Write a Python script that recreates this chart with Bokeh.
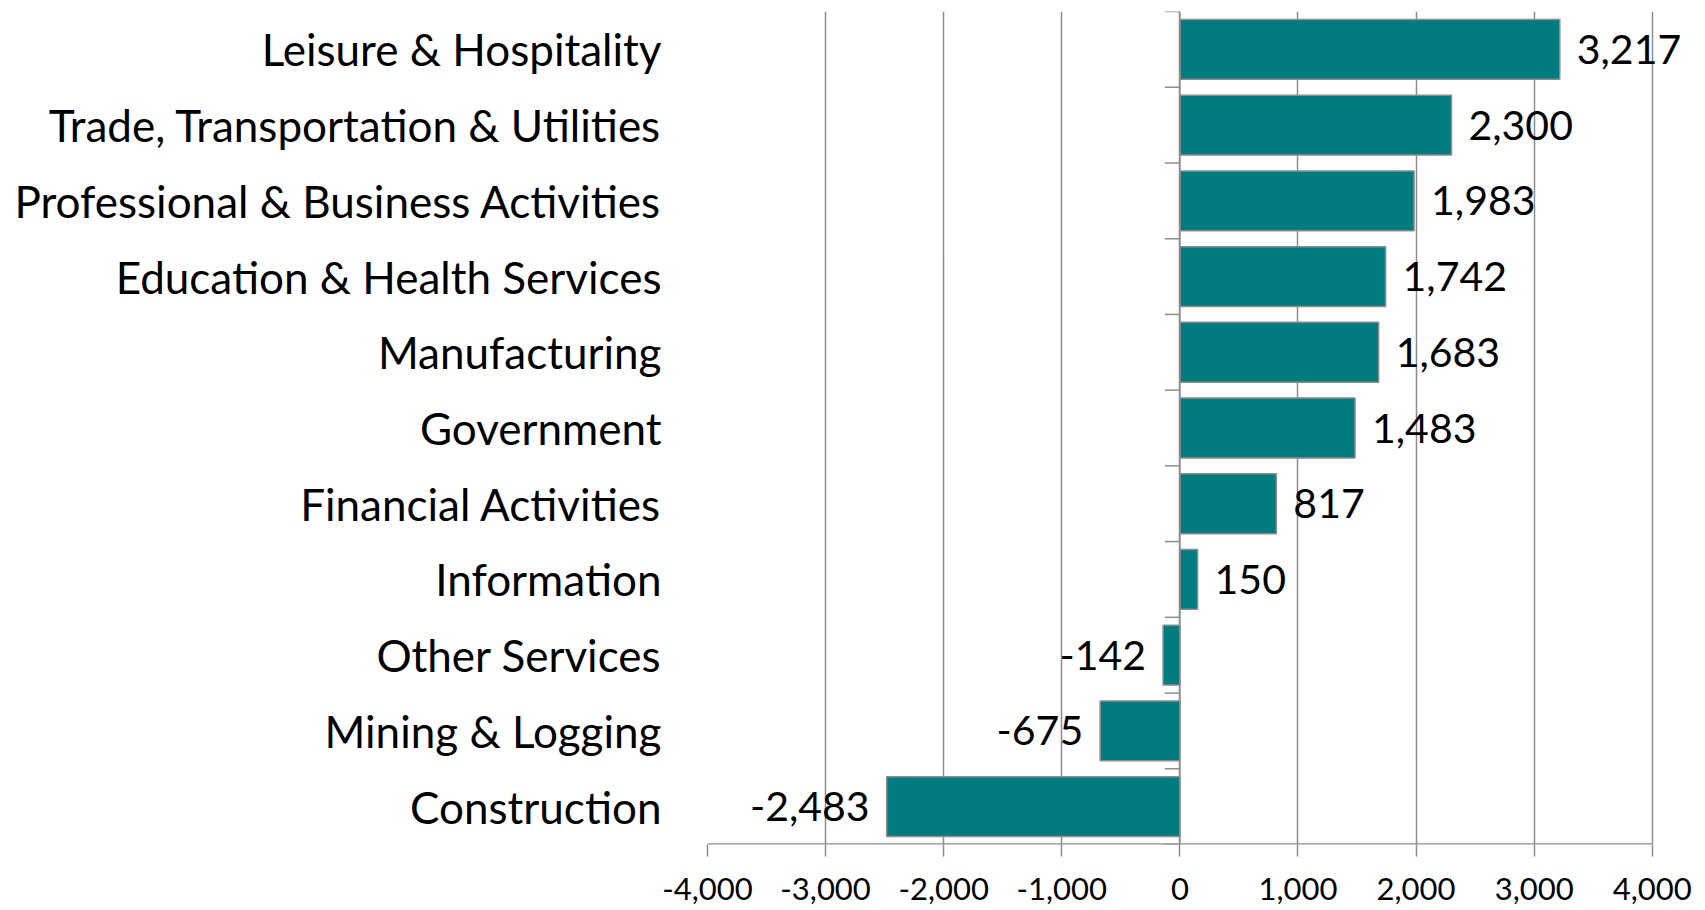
import math
from bokeh.plotting import figure
from bokeh.models import Range1d, FixedTicker, Span, ColumnDataSource, NumeralTickFormatter, LabelSet
from bokeh.core.properties import value
from bokeh.embed import file_html
from bokeh.resources import INLINE

categories = ["Leisure & Hospitality", "Trade, Transportation & Utilities",
              "Professional & Business Activities", "Education & Health Services",
              "Manufacturing", "Government", "Financial Activities", "Information",
              "Other Services", "Mining & Logging", "Construction"]
values = [3217, 2300, 1983, 1742, 1683, 1483, 817, 150, -142, -675, -2483]
x_ticks = [-4000, -3000, -2000, -1000, 0, 1000, 2000, 3000, 4000]

FONT = "Lato"
GRAY = "#8c8c8c"
TEAL = "#007b80"

n = len(categories)
centers = [i + 0.5 for i in range(n)]
labels = [f"{v:,}" for v in values]
aligns = ["left" if v >= 0 else "right" for v in values]
offs = [17 if v >= 0 else -17 for v in values]

src = ColumnDataSource(dict(y=centers, v=values, lab=labels, al=aligns, off=offs))

# extra room on the right of the range so the "3,217" label is not clipped
p = figure(width=1700, height=910, output_backend="svg", toolbar_location=None,
           x_range=Range1d(x_ticks[0], x_ticks[-1] + 400), y_range=Range1d(n, 0),
           min_border_left=707, min_border_right=1, min_border_top=11, min_border_bottom=66)
p.outline_line_color = None
p.background_fill_color = "white"
p.border_fill_color = "white"

p.hbar(y="y", left=0, right="v", height=0.79, source=src,
       fill_color=TEAL, line_color=GRAY, line_width=1.5)

p.add_layout(LabelSet(x="v", y="y", text="lab", x_offset="off", text_align="al", source=src,
                      text_baseline="middle", text_font=value(FONT), text_font_size="41px",
                      text_color="black"))

# zero axis line and category separator ticks
p.add_layout(Span(location=0, dimension="height", line_color=GRAY, line_width=1.5))
bounds = list(range(n + 1))
p.ray(x=[0] * len(bounds), y=bounds, length=15, length_units="screen",
      angle=math.pi, line_color=GRAY, line_width=1.5)

# bottom axis line limited to the tick span
p.segment(x0=[x_ticks[0]], x1=[x_ticks[-1]], y0=[n], y1=[n], line_color=GRAY, line_width=2.5)

# x axis
p.xaxis.ticker = FixedTicker(ticks=x_ticks)
p.xaxis.formatter = NumeralTickFormatter(format="0,0")
p.xaxis.axis_line_color = None
p.xaxis.major_tick_line_color = GRAY
p.xaxis.major_tick_line_width = 1.5
p.xaxis.major_tick_out = 12
p.xaxis.major_tick_in = 0
p.xaxis.minor_tick_line_color = None
p.xaxis.major_label_text_font = FONT
p.xaxis.major_label_text_font_size = "31px"
p.xaxis.major_label_text_color = "black"
p.xaxis.major_label_standoff = 21

# y axis (category labels)
p.yaxis.ticker = FixedTicker(ticks=centers)
p.yaxis.major_label_overrides = {c: name for c, name in zip(centers, categories)}
p.yaxis.axis_line_color = None
p.yaxis.major_tick_line_color = None
p.yaxis.minor_tick_line_color = None
p.yaxis.major_tick_out = 0
p.yaxis.major_tick_in = 0
p.yaxis.major_label_standoff = 46
p.yaxis.major_label_text_font = FONT
p.yaxis.major_label_text_font_size = "44px"
p.yaxis.major_label_text_color = "black"

p.xgrid.ticker = FixedTicker(ticks=x_ticks)
p.xgrid.grid_line_color = GRAY
p.xgrid.grid_line_width = 1.5
p.ygrid.grid_line_color = None

open("out.html", "w").write(file_html(p, INLINE))
